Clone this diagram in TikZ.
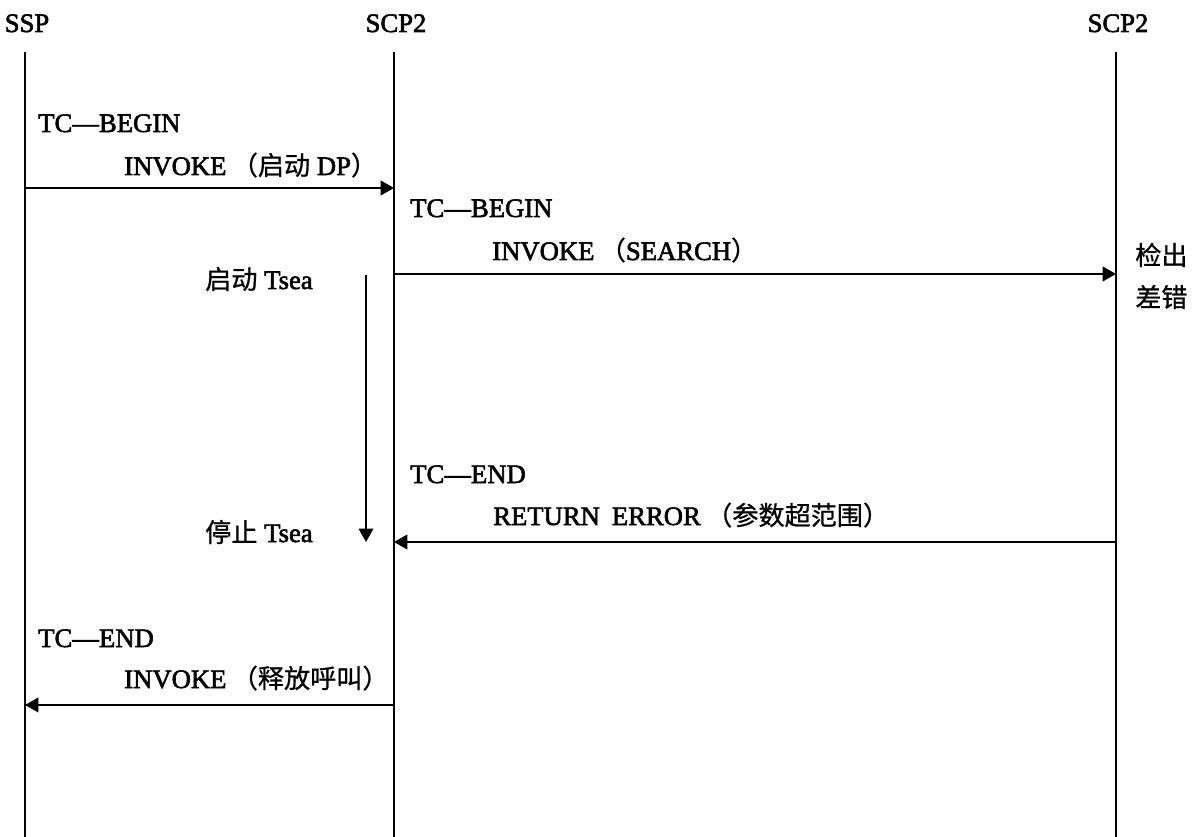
\documentclass[tikz,border=0pt]{standalone}
\usepackage{fontspec}
\setmainfont{Liberation Serif}[FakeBold=2.2]
\newfontfamily\cjkf{Noto Sans CJK SC}[Scale=0.98,FakeBold=0.8]
\newcommand{\cj}[1]{{\cjkf #1}}
\usetikzlibrary{arrows.meta}
\begin{document}
\begin{tikzpicture}[x=0.75pt,y=-0.75pt,
  life/.style={line width=1.3pt},
  msg/.style={line width=1.3pt,-{Triangle[length=10pt,width=11pt]}},
  lbl/.style={anchor=base west,inner sep=0pt,font=\fontsize{20}{24}\selectfont},
  hdr/.style={anchor=base,inner sep=0pt,font=\fontsize{20}{24}\selectfont}]
\useasboundingbox (0,0) rectangle (1198,837);
% headers
\node[hdr] (ssp) at (27,32) {SSP};
\node[hdr] (scpa) at (396,32) {SCP2};
\node[hdr] (scpb) at (1118,32) {SCP2};
% lifelines
\coordinate (sspT) at (25,52);  \coordinate (sspB) at (25,837);
\coordinate (scpaT) at (394,52); \coordinate (scpaB) at (394,837);
\coordinate (scpbT) at (1116,52); \coordinate (scpbB) at (1116,837);
\draw[life] (sspT) -- (sspB);
\draw[life] (scpaT) -- (scpaB);
\draw[life] (scpbT) -- (scpbB);
% message endpoints
\coordinate (m1a) at (25,188);  \coordinate (m1b) at (394,188);
\coordinate (m2a) at (394,274); \coordinate (m2b) at (1116,274);
\coordinate (m3a) at (1116,542); \coordinate (m3b) at (394,542);
\coordinate (m4a) at (394,705); \coordinate (m4b) at (25,705);
\coordinate (tTop) at (366,275); \coordinate (tBot) at (366,542);
\draw[msg] (m1a) -- (m1b);
\draw[msg] (m2a) -- (m2b);
\draw[msg] (m3a) -- (m3b);
\draw[msg] (m4a) -- (m4b);
\draw[msg,line width=1pt] (tTop) -- (tBot);
% labels
\node[lbl] (l1a) at (38,132) {TC—BEGIN};
\node[lbl] (l1b) at (124,175) {INVOKE\hspace{0.2em}\cj{（启动}\hspace{0.25em}DP\cj{）}};
\node[lbl] (l2a) at (410,217) {TC—BEGIN};
\node[lbl] (l2b) at (492,260) {INVOKE\hspace{0.2em}\cj{（}SEARCH\cj{）}};
\node[lbl] (t1) at (205,289) {\cj{启动}\hspace{0.25em}Tsea};
\node[lbl] (t2) at (205,542) {\cj{停止}\hspace{0.25em}Tsea};
\node[lbl] (l3a) at (410,483) {TC—END};
\node[lbl] (l3b) at (493,525) {RETURN\hspace{0.45em}ERROR\hspace{0.2em}\cj{（参数超范围）}};
\node[lbl] (l4a) at (38,647) {TC—END};
\node[lbl] (l4b) at (124,688) {INVOKE\hspace{0.2em}\cj{（释放呼叫）}};
\node[lbl] (e1) at (1135,265) {\cj{检出}};
\node[lbl] (e2) at (1135,307) {\cj{差错}};
\end{tikzpicture}
\end{document}
